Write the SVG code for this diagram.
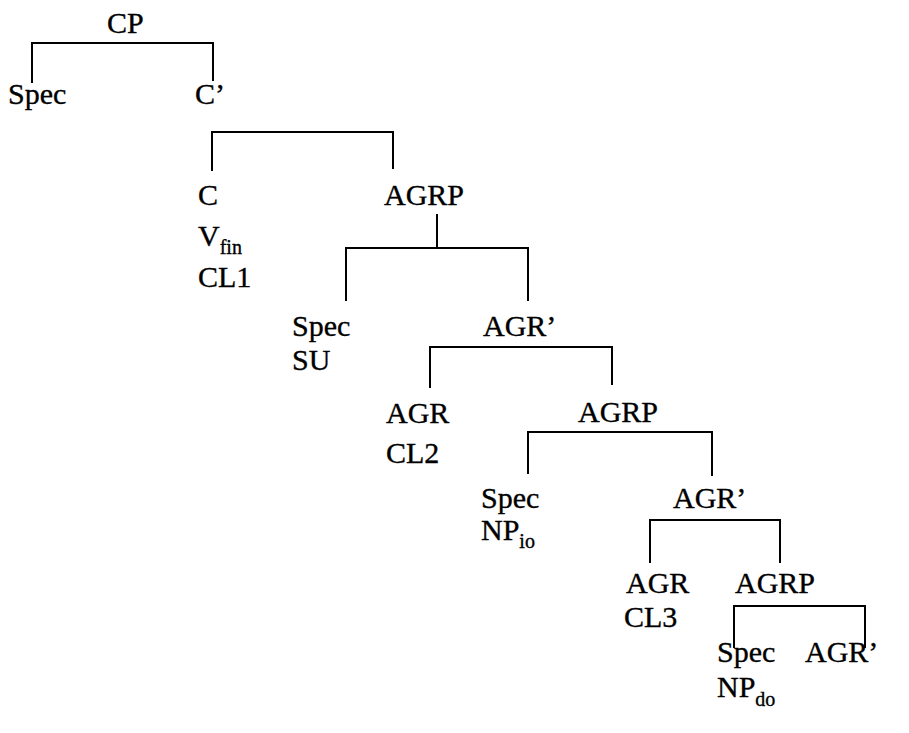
<svg xmlns="http://www.w3.org/2000/svg" width="909" height="733" viewBox="0 0 909 733">
  <style>
    text { font-family: "Liberation Serif", "Times New Roman", serif; font-size: 30px; fill: #000; stroke: #000; stroke-width: 0.35px; }
    .sub { font-size: 20px; }
    .edge { fill: none; stroke: #000; stroke-width: 2; stroke-linecap: square; }
  </style>
  <rect width="909" height="733" fill="#fff"/>

  <!-- tree branches -->
  <g id="connectors">
    <path class="edge" d="M32,82 V43 H213 V80"/>
    <path class="edge" d="M212,170 V132 H393 V168"/>
    <path class="edge" d="M437,215 V248"/>
    <path class="edge" d="M346,300 V248 H528 V300"/>
    <path class="edge" d="M430,387 V347 H612 V384"/>
    <path class="edge" d="M528,473 V432 H712 V475"/>
    <path class="edge" d="M650,562 V520 H780 V562"/>
    <path class="edge" d="M734,647 V606 H865 V647"/>
  </g>

  <!-- nodes -->
  <g id="cp"><text x="107" y="33">CP</text></g>
  <g id="spec-cp"><text x="8" y="104">Spec</text></g>
  <g id="c-bar"><text x="195" y="104">C’</text></g>
  <g id="c-head">
    <text x="198" y="205">C</text>
    <text x="198" y="246">V<tspan class="sub" dy="8">fin</tspan></text>
    <text x="198" y="287">CL1</text>
  </g>
  <g id="agrp1"><text x="384" y="205">AGRP</text></g>
  <g id="spec-agrp1">
    <text x="292" y="336">Spec</text>
    <text x="292" y="370">SU</text>
  </g>
  <g id="agr-bar1"><text x="483" y="336">AGR’</text></g>
  <g id="agr1">
    <text x="386" y="423">AGR</text>
    <text x="386" y="463">CL2</text>
  </g>
  <g id="agrp2"><text x="578" y="422">AGRP</text></g>
  <g id="spec-agrp2">
    <text x="481" y="508">Spec</text>
    <text x="481" y="540">NP<tspan class="sub" dy="8">io</tspan></text>
  </g>
  <g id="agr-bar2"><text x="673" y="508">AGR’</text></g>
  <g id="agr2">
    <text x="626" y="593">AGR</text>
    <text x="624" y="627">CL3</text>
  </g>
  <g id="agrp3"><text x="735" y="593">AGRP</text></g>
  <g id="spec-agrp3">
    <text x="717" y="662">Spec</text>
    <text x="717" y="697">NP<tspan class="sub" dy="9">do</tspan></text>
  </g>
  <g id="agr-bar3"><text x="805" y="662">AGR’</text></g>
</svg>
